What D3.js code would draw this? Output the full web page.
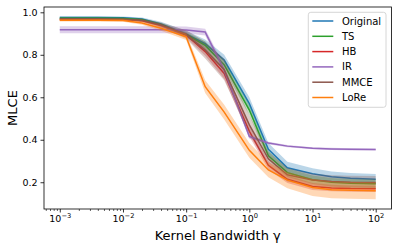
<!DOCTYPE html>
<html>
<head>
<meta charset="utf-8">
<title></title>
<style type="text/css">
  body {margin: 0; background: #fff;}
  svg text {font-family: "DejaVu Sans", sans-serif; fill: #000;}
  .domain {display: none;}
</style>
</head>
<body>
<script src="https://d3js.org/d3.v7.min.js"></script>
<div id="my_dataviz"></div>
<script>
// kernel bandwidths (x)
var gammas = [0.001, 0.002, 0.004, 0.01, 0.02, 0.04, 0.1, 0.2, 0.4, 1, 2, 4, 10, 20, 40, 100];

// mean MLCE per method
var original = [0.975, 0.975, 0.975, 0.974, 0.968, 0.945, 0.898, 0.852, 0.775, 0.57, 0.355, 0.268, 0.240, 0.226, 0.219, 0.214];
var ts       = [0.972, 0.972, 0.972, 0.971, 0.965, 0.942, 0.895, 0.845, 0.752, 0.54, 0.325, 0.245, 0.212, 0.200, 0.195, 0.193];
var hb       = [0.966, 0.966, 0.966, 0.965, 0.960, 0.938, 0.893, 0.815, 0.712, 0.44, 0.280, 0.214, 0.180, 0.173, 0.170, 0.169];
var ir       = [0.918, 0.918, 0.918, 0.918, 0.918, 0.918, 0.917, 0.907, 0.728, 0.415, 0.385, 0.370, 0.360, 0.357, 0.355, 0.354];
var mmce     = [0.968, 0.968, 0.968, 0.967, 0.962, 0.940, 0.895, 0.823, 0.730, 0.47, 0.310, 0.235, 0.210, 0.203, 0.200, 0.199];
var lore     = [0.963, 0.963, 0.963, 0.962, 0.950, 0.925, 0.885, 0.650, 0.530, 0.35, 0.258, 0.210, 0.175, 0.165, 0.162, 0.160];

// spread of the shaded band (+/-)
var originalSd = [0.006, 0.006, 0.006, 0.006, 0.007, 0.010, 0.015, 0.020, 0.025, 0.030, 0.030, 0.028, 0.026, 0.025, 0.025, 0.025];
var tsSd       = [0.005, 0.005, 0.005, 0.005, 0.006, 0.008, 0.012, 0.018, 0.022, 0.025, 0.022, 0.020, 0.020, 0.020, 0.020, 0.020];
var hbSd       = [0.005, 0.005, 0.005, 0.005, 0.006, 0.008, 0.012, 0.020, 0.025, 0.025, 0.020, 0.018, 0.016, 0.015, 0.015, 0.015];
var irSd       = [0.016, 0.016, 0.016, 0.016, 0.016, 0.016, 0.016, 0.016, 0.020, 0.010, 0.006, 0.005, 0.005, 0.005, 0.005, 0.005];
var mmceSd     = [0.006, 0.006, 0.006, 0.006, 0.008, 0.012, 0.020, 0.040, 0.050, 0.045, 0.035, 0.032, 0.030, 0.030, 0.030, 0.030];
var loreSd     = [0.006, 0.006, 0.006, 0.006, 0.008, 0.012, 0.015, 0.030, 0.035, 0.035, 0.035, 0.038, 0.040, 0.040, 0.040, 0.040];

var names = ["Original", "TS", "HB", "IR", "MMCE", "LoRe"];
var colors = ["#1f77b4", "#2ca02c", "#d62728", "#9467bd", "#8c564b", "#ff7f0e"];

var yTicks = [0.2, 0.4, 0.6, 0.8, 1.0];
var xTicks = [1e-3, 1e-2, 1e-1, 1, 10, 100];
var xTickExp = ["\u22123", "\u22122", "\u22121", "0", "1", "2"];

var series = [
  {name: names[0], mean: original, sd: originalSd, color: colors[0]},
  {name: names[1], mean: ts, sd: tsSd, color: colors[1]},
  {name: names[2], mean: hb, sd: hbSd, color: colors[2]},
  {name: names[3], mean: ir, sd: irSd, color: colors[3]},
  {name: names[4], mean: mmce, sd: mmceSd, color: colors[4]},
  {name: names[5], mean: lore, sd: loreSd, color: colors[5]}
];

// plot area
var pLeft = 44, pRight = 391.5, pTop = 7, pBottom = 209;

var svg = d3.select("#my_dataviz")
  .append("svg")
    .attr("width", 399)
    .attr("height", 249);

var x = d3.scaleLog()
    .domain([Math.pow(10, -3.25), Math.pow(10, 2.25)])
    .range([pLeft, pRight]);
var y = d3.scaleLinear()
    .domain([0.074, 1.025])
    .range([pBottom, pTop]);

// bands + lines
series.forEach(function(s) {
  var pts = gammas.map(function(g, i) { return {g: g, m: s.mean[i], sd: s.sd[i]}; });
  svg.append("path")
    .datum(pts)
    .attr("fill", s.color)
    .attr("fill-opacity", 0.3)
    .attr("d", d3.area()
      .x(function(d) { return x(d.g); })
      .y0(function(d) { return y(d.m - d.sd); })
      .y1(function(d) { return y(d.m + d.sd); }));
  svg.append("path")
    .datum(pts)
    .attr("fill", "none")
    .attr("stroke", s.color)
    .attr("stroke-width", 1.5)
    .attr("d", d3.line()
      .x(function(d) { return x(d.g); })
      .y(function(d) { return y(d.m); }));
});

// x axis with minor ticks
var minor = [];
for (var e = -4; e <= 2; e++) {
  for (var k = 2; k <= 9; k++) {
    var v = k * Math.pow(10, e);
    if (v > x.domain()[0] && v < x.domain()[1]) minor.push(v);
  }
}
svg.append("g")
  .attr("transform", "translate(0," + pBottom + ")")
  .call(d3.axisBottom(x).tickValues(minor).tickSize(2).tickFormat(""))
  .selectAll("line").attr("stroke", "#000").attr("stroke-width", 0.6);

var xAxis = svg.append("g")
  .attr("transform", "translate(0," + pBottom + ")")
  .call(d3.axisBottom(x).tickValues(xTicks).tickSize(3.5).tickPadding(3).tickFormat(""));
xAxis.selectAll("line").attr("stroke", "#000").attr("stroke-width", 0.8);
xAxis.selectAll(".tick").each(function(d, i) {
  var t = d3.select(this).append("text")
    .attr("y", 13)
    .attr("text-anchor", "middle")
    .style("font-size", "9.5px");
  t.append("tspan").text("10");
  t.append("tspan").attr("dy", -4).style("font-size", "6.7px").text(xTickExp[i]);
});

var yAxis = svg.append("g")
  .attr("transform", "translate(" + pLeft + ",0)")
  .call(d3.axisLeft(y).tickValues(yTicks).tickSize(3.5).tickPadding(3).tickFormat(d3.format(".1f")));
yAxis.selectAll("line").attr("stroke", "#000").attr("stroke-width", 0.8);
yAxis.selectAll("text").style("font-size", "9.5px");

// frame
svg.append("rect")
  .attr("x", pLeft).attr("y", pTop)
  .attr("width", pRight - pLeft).attr("height", pBottom - pTop)
  .attr("fill", "none").attr("stroke", "#000").attr("stroke-width", 0.8);

// axis labels
svg.append("text")
  .attr("x", (pLeft + pRight) / 2).attr("y", 240)
  .attr("text-anchor", "middle")
  .style("font-size", "13px")
  .text("Kernel Bandwidth \u03b3");
svg.append("text")
  .attr("transform", "translate(17," + ((pTop + pBottom) / 2) + ") rotate(-90)")
  .attr("text-anchor", "middle")
  .style("font-size", "13px")
  .text("MLCE");

// legend
var lg = svg.append("g");
lg.append("rect")
  .attr("x", 308.3).attr("y", 12.3)
  .attr("width", 77.7).attr("height", 95)
  .attr("rx", 2.5)
  .attr("fill", "#fff").attr("fill-opacity", 0.8)
  .attr("stroke", "#ccc").attr("stroke-width", 0.8);
names.forEach(function(n, i) {
  var ly = 21 + i * 15.3;
  lg.append("line")
    .attr("x1", 312.3).attr("x2", 333.3)
    .attr("y1", ly).attr("y2", ly)
    .attr("stroke", colors[i]).attr("stroke-width", 1.5);
  lg.append("text")
    .attr("x", 342).attr("y", ly)
    .attr("dy", "0.35em")
    .style("font-size", "10px")
    .text(n);
});
</script>
</body>
</html>
